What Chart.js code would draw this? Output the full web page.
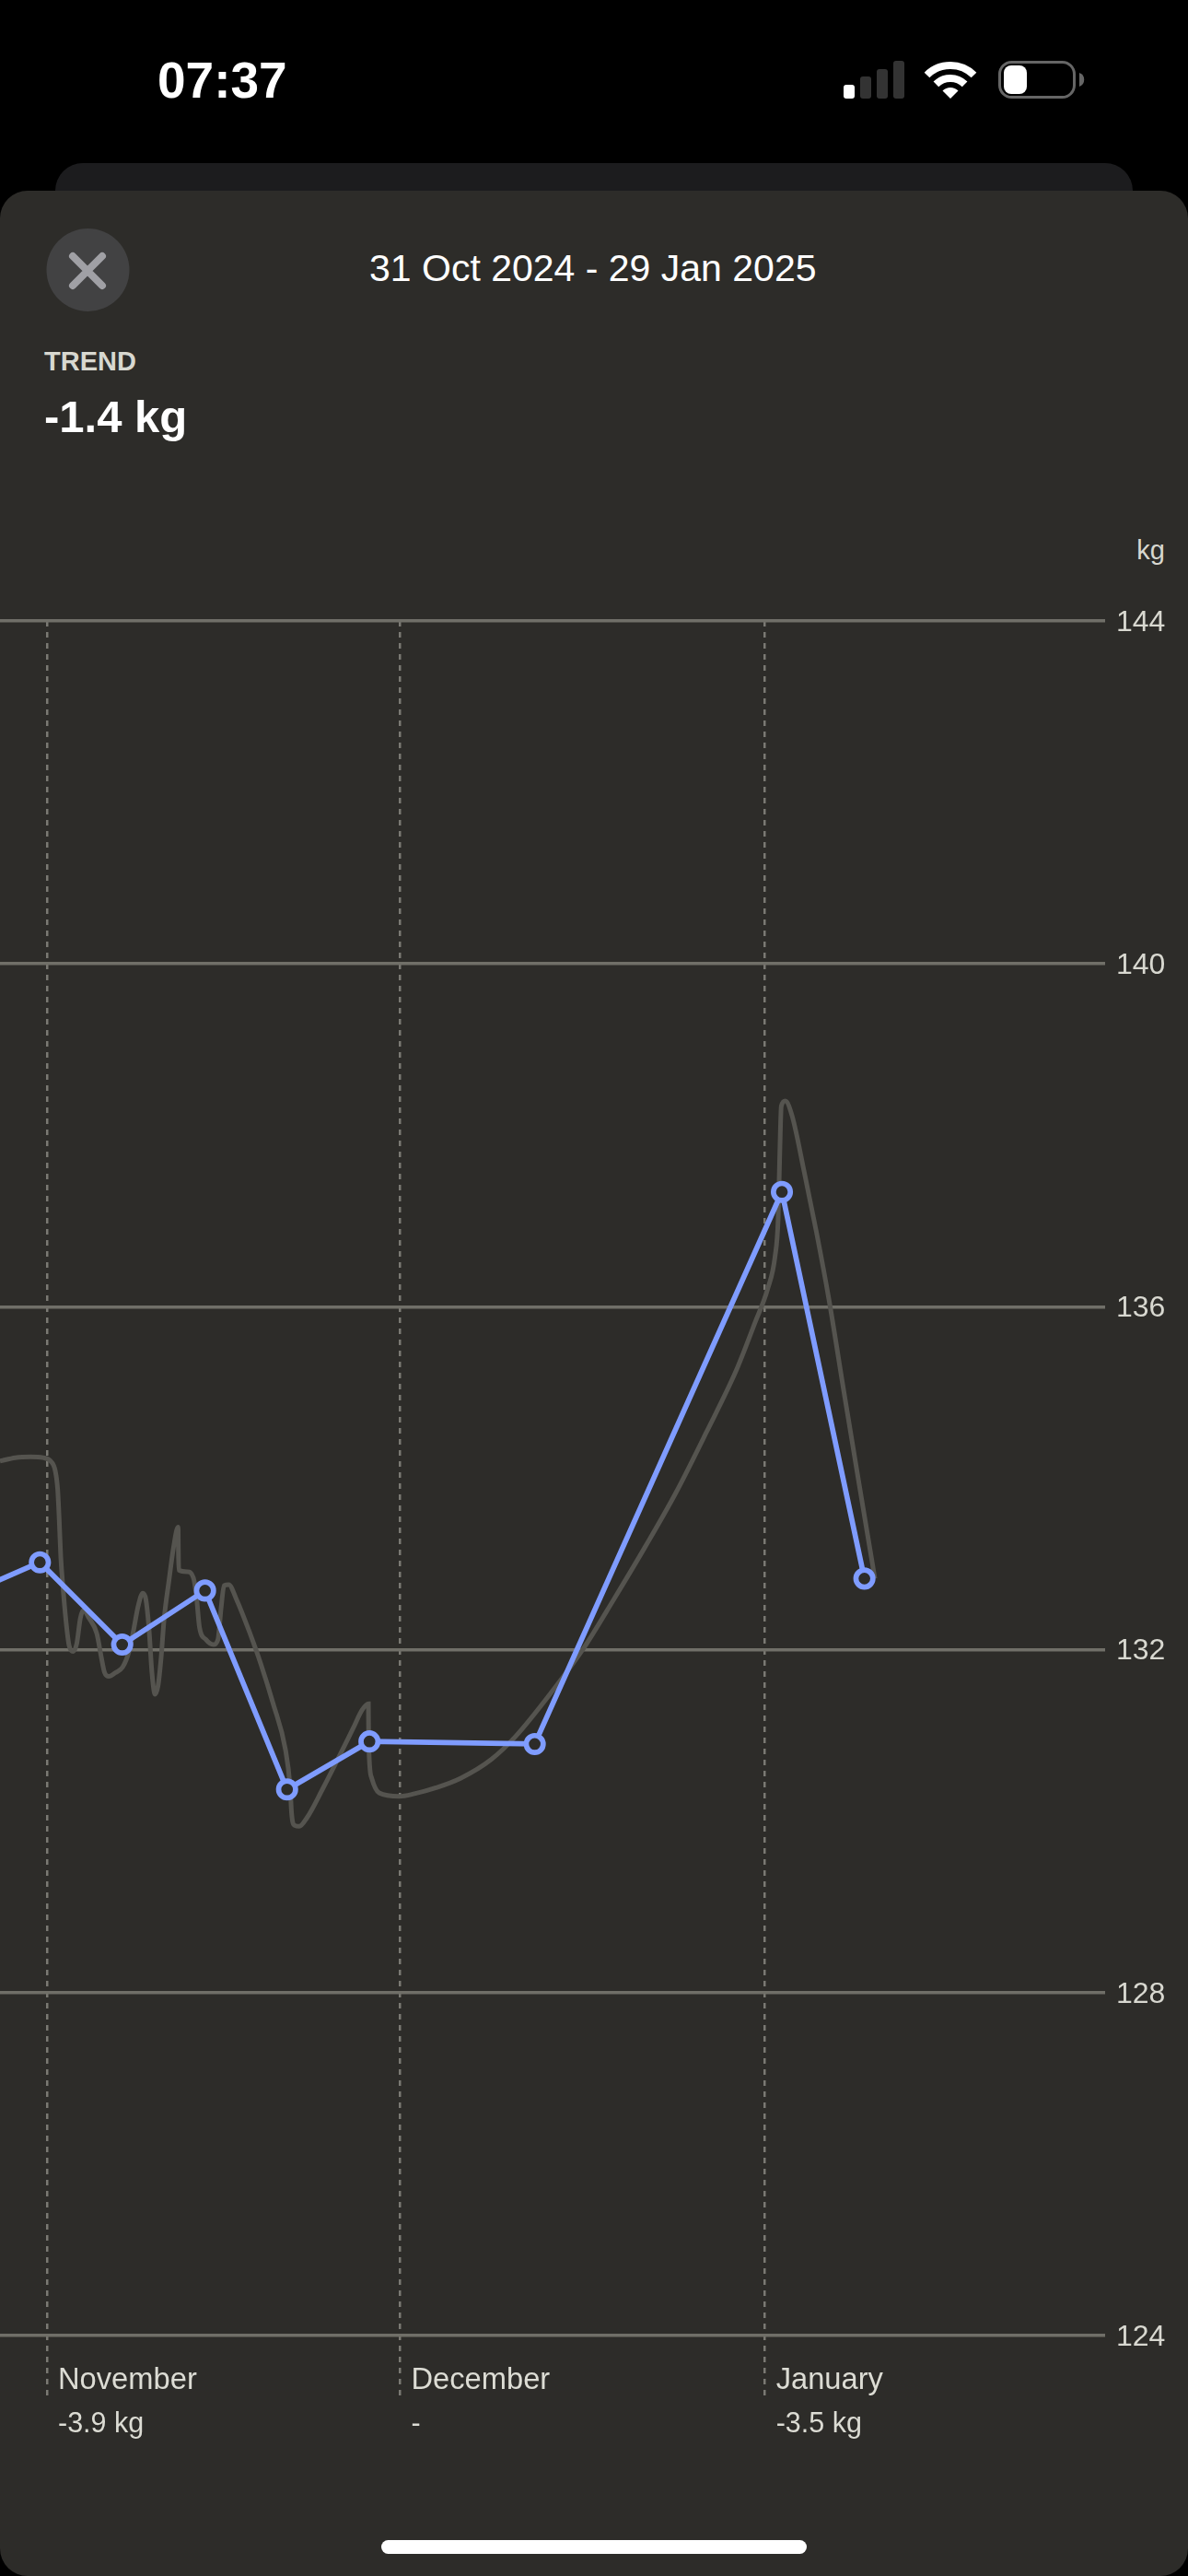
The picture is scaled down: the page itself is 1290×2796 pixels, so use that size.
<!DOCTYPE html>
<html>
<head>
<meta charset="utf-8">
<script src="https://cdn.jsdelivr.net/npm/chart.js@4/dist/chart.umd.min.js"></script>
<style>
html,body{margin:0;padding:0;background:#000;width:1290px;height:2796px;overflow:hidden}
body{position:relative;font-family:"Liberation Sans",Arial,sans-serif}
.t{position:absolute;line-height:1;white-space:nowrap}
#chrome{position:absolute;left:0;top:0}
#wrap{position:absolute;left:0;top:600px;width:1290px;height:2062px}
</style>
</head>
<body>
<svg id="chrome" width="1290" height="2796" viewBox="0 0 1290 2796">
  <rect x="60" y="177" width="1170" height="80" rx="30" fill="#1c1c1e"/>
  <rect x="0" y="207" width="1290" height="2589" rx="30" fill="#2d2c29"/>
  <rect x="916" y="92" width="12" height="15" rx="3" fill="#fff"/>
  <rect x="934" y="83" width="12" height="24" rx="3" fill="#333"/>
  <rect x="952" y="75" width="12" height="32" rx="3" fill="#333"/>
  <rect x="970" y="66" width="12" height="41" rx="3" fill="#333"/>
  <path d="M1006.5 81.5A36 36 0 0 1 1057.5 81.5" fill="none" stroke="#fff" stroke-width="8"/>
  <path d="M1016.4 91.4A22 22 0 0 1 1047.6 91.4" fill="none" stroke="#fff" stroke-width="8"/>
  <path d="M1032 107L1023.5 98.5A12 12 0 0 1 1040.5 98.5Z" fill="#fff"/>
  <rect x="1085.5" y="67.5" width="81" height="38" rx="13" fill="none" stroke="#666" stroke-width="3"/>
  <rect x="1090" y="71" width="25" height="31" rx="8" fill="#fff"/>
  <path d="M1172 79A8 8 0 0 1 1172 94Z" fill="#666"/>
  <circle cx="95.5" cy="293" r="45" fill="#424243"/>
  <path d="M79 278L111 310M111 278L79 310" stroke="#a0a0a5" stroke-width="8" stroke-linecap="round"/>
  <rect x="414" y="2757" width="462" height="15" rx="7.5" fill="#fff"/>
</svg>
<div class="t" style="left:171px;top:60px;font-size:55px;font-weight:700;color:#fff">07:37</div>
<div class="t" style="left:401px;top:271px;font-size:41px;color:#fff">31 Oct 2024 - 29 Jan 2025</div>
<div class="t" style="left:48px;top:378px;font-size:29px;font-weight:700;color:#d8d8d0">TREND</div>
<div class="t" style="left:48px;top:428px;font-size:49px;font-weight:700;color:#fff">-1.4 kg</div>
<div class="t" style="right:25px;top:583px;font-size:29px;color:#d8d8d0">kg</div>
<div id="wrap"><canvas id="c" width="1290" height="2062"></canvas></div>
<script>
// Day numbers count from 1 Nov 2024 = 0
const trendDays = [-7.6, -0.6, 6.39, 13.43, 20.4, 27.4, 41.44, 62.44, 69.45];
const trendKg   = [132.6, 133.02, 132.06, 132.69, 130.37, 130.93, 130.90, 137.34, 132.83];

const dailyDays = [-3.99,-2.69,-1.38,-0.34,0.31,0.70,0.91,1.04,1.17,1.36,1.62,1.88,2.22,2.53,2.84,3.10,3.57,4.23,4.62,4.88,5.27,5.79,6.44,6.97,7.36,7.75,8.14,8.40,8.66,8.92,9.18,9.44,9.70,9.96,10.36,10.75,11.14,11.19,11.92,12.44,12.70,12.96,13.49,14.14,14.53,14.79,15.05,15.44,16.09,17.14,18.18,19.22,20.27,20.66,20.79,21.05,21.44,22.09,23.40,24.70,26.00,26.79,27.31,27.33,27.57,28.22,29.92,31.22,33.05,35.13,37.74,39.82,42.95,45.56,48.17,50.78,53.39,56.0,58.60,60.17,61.21,61.86,62.12,62.26,62.39,62.73,63.30,64.34,65.39,66.43,67.73,69.04,70.34];
const dailyKg   = [134.20,134.24,134.25,134.24,134.20,134.09,133.87,133.52,133.09,132.73,132.33,132.05,131.98,132.07,132.37,132.46,132.37,132.19,131.91,131.74,131.69,131.73,131.80,131.98,132.23,132.51,132.66,132.59,132.26,131.73,131.48,131.58,131.91,132.37,132.80,133.19,133.43,132.93,132.91,132.84,132.62,132.26,132.12,132.06,132.12,132.48,132.75,132.76,132.59,132.23,131.83,131.37,130.83,130.40,130.08,129.95,129.94,130.04,130.37,130.72,131.08,131.30,131.37,130.94,130.51,130.33,130.29,130.32,130.39,130.50,130.72,130.99,131.52,132.01,132.59,133.19,133.82,134.53,135.27,135.82,136.20,136.59,137.02,137.79,138.34,138.40,138.23,137.57,136.86,136.09,134.99,133.90,132.83];

const monthDays   = [0, 30, 61];
const monthLabels = ["November", "December", "January"];
const monthDeltas = ["-3.9 kg", "-", "-3.5 kg"];

const yMin = 124, yMax = 144, yStep = 4;
const xMin = -3.99, xMax = 89.9;

const monthTicks = scale => { scale.ticks = monthDays.map(v => ({ value: v })); };
const zip = (xs, ys) => xs.map((x, i) => ({ x, y: ys[i] }));
const FONT = '"Liberation Sans", Arial, sans-serif';

new Chart(document.getElementById('c'), {
  type: 'line',
  data: { datasets: [
    { label: 'Trend', data: zip(trendDays, trendKg), borderColor: '#7f9cff', borderWidth: 5.7,
      pointRadius: 9.2, pointBorderWidth: 5.7, pointBorderColor: '#7f9cff',
      pointBackgroundColor: '#2d2c29', tension: 0, xAxisID: 'x', yAxisID: 'y' },
    { label: 'Daily', data: zip(dailyDays, dailyKg), borderColor: '#55544f', borderWidth: 5,
      pointRadius: 0, cubicInterpolationMode: 'monotone', xAxisID: 'x', yAxisID: 'y' }
  ]},
  options: {
    responsive: false, animation: false, devicePixelRatio: 1,
    layout: { autoPadding: false, padding: { top: 74, left: 0, right: 0, bottom: 0 } },
    plugins: { legend: { display: false }, tooltip: { enabled: false } },
    scales: {
      x: {
        type: 'linear', position: 'bottom', min: xMin, max: xMax, weight: 0,
        afterBuildTicks: monthTicks,
        afterFit: s => { s.height = 67; },
        border: { display: false, dash: [6, 6] },
        grid: { color: '#7a7973', lineWidth: 2.5, tickLength: 65, tickColor: '#7a7973', tickWidth: 2.5,
                tickBorderDash: [6, 6], tickBorderDashOffset: 1 },
        ticks: { autoSkip: false, maxRotation: 0, align: 'start', labelOffset: 12, padding: -36,
                 color: '#dcdcd4', font: { family: FONT, size: 32.7 },
                 callback: (v) => monthLabels[monthDays.indexOf(v)] }
      },
      xDelta: {
        type: 'linear', position: 'bottom', min: xMin, max: xMax, weight: 1,
        afterBuildTicks: monthTicks,
        afterFit: s => { s.height = 60; },
        border: { display: false },
        grid: { display: false, drawTicks: false },
        ticks: { autoSkip: false, maxRotation: 0, align: 'start', labelOffset: 12, padding: 11,
                 color: '#dcdcd4', font: { family: FONT, size: 30.5 },
                 callback: (v) => monthDeltas[monthDays.indexOf(v)] }
      },
      y: {
        type: 'linear', position: 'right', min: yMin, max: yMax,
        afterFit: s => { s.width = 90; },
        border: { display: false },
        grid: { color: '#706f68', lineWidth: 3.5, drawTicks: false },
        ticks: { stepSize: yStep, padding: 12, labelOffset: 2, color: '#d8d8d0',
                 font: { family: FONT, size: 32 } }
      }
    }
  }
});
</script>
</body>
</html>
